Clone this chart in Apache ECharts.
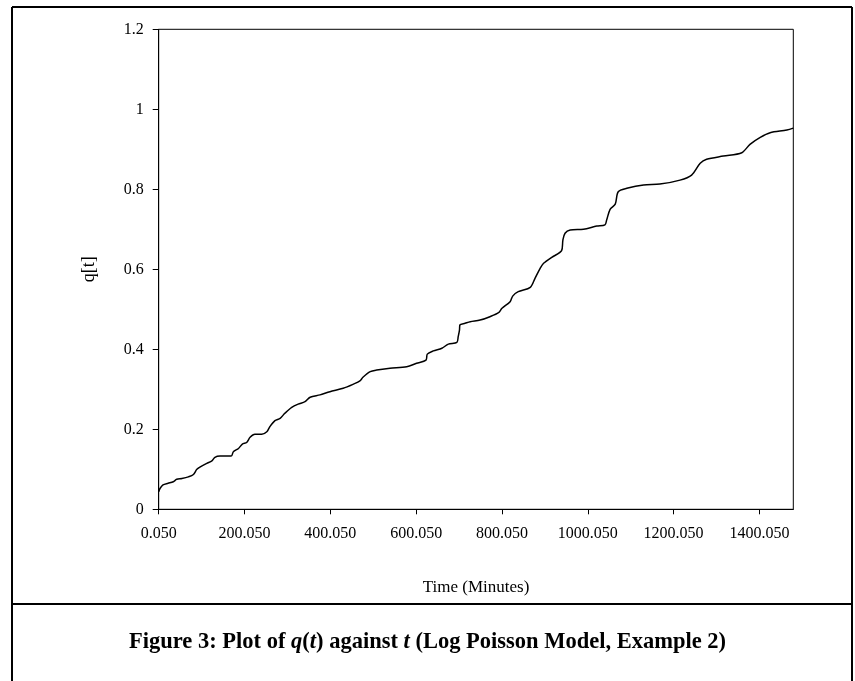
<!DOCTYPE html>
<html lang="en">

<head>
    <meta charset="UTF-8">
    <title>q(t) against t</title>
    <script src="https://cdn.jsdelivr.net/npm/echarts/dist/echarts.min.js"></script>
    <style>
        body { margin: 0; background: #fff; }
        #main { width: 855px; height: 681px; }
    </style>
</head>

<body>
    <div id="main"></div>

    <script>
        // time in minutes
        const times = [0.05, 3.05, 10.05, 22.05, 34.05, 42.05, 54.05, 69.05, 81.05, 89.05,
            100.05, 112.05, 124.05, 131.05, 143.05, 169.05, 174.05, 186.05, 195.05, 205.05,
            213.05, 224.05, 240.05, 252.05, 259.05, 271.05, 283.05, 294.05, 310.05, 325.05,
            341.05, 353.05, 376.05, 399.05, 430.05, 454.05, 469.05, 476.05, 493.05, 508.05,
            539.05, 578.05, 601.05, 623.05, 626.05, 640.05, 660.05, 675.05, 695.05, 698.05,
            701.05, 702.05, 714.05, 726.05, 749.05, 772.05, 792.05, 800.05, 819.05, 825.05,
            838.05, 866.05, 877.05, 889.05, 897.05, 916.05, 939.05, 942.05, 947.05, 959.05,
            990.05, 1021.05, 1040.05, 1044.05, 1052.05, 1064.05, 1071.05, 1091.05, 1130.05, 1168.05,
            1215.05, 1242.05, 1262.05, 1277.05, 1316.05, 1359.05, 1378.05, 1402.05, 1425.05, 1464.05,
            1479.05];
        const qValues = [0.044, 0.052, 0.061, 0.065, 0.069, 0.075, 0.077, 0.081, 0.087, 0.100,
            0.108, 0.115, 0.121, 0.130, 0.133, 0.133, 0.144, 0.152, 0.163, 0.167,
            0.180, 0.1875, 0.1875, 0.194, 0.2065, 0.2215, 0.2275, 0.240, 0.255, 0.263,
            0.269, 0.280, 0.286, 0.294, 0.3025, 0.313, 0.321, 0.330, 0.344, 0.348,
            0.3525, 0.3565, 0.365, 0.373, 0.388, 0.396, 0.4025, 0.413, 0.4175, 0.4315,
            0.448, 0.461, 0.465, 0.469, 0.473, 0.4815, 0.4915, 0.5025, 0.519, 0.533,
            0.544, 0.555, 0.5775, 0.6025, 0.615, 0.630, 0.6465, 0.673, 0.690, 0.698,
            0.700, 0.708, 0.711, 0.723, 0.750, 0.763, 0.794, 0.8025, 0.811, 0.813,
            0.823, 0.8355, 0.865, 0.875, 0.883, 0.8915, 0.9125, 0.930, 0.9415, 0.948,
            0.953];
        const xTickStep = 200;
        const xStart = 0.05;
        const xEnd = 1479.05;
        const yTicks = [0, 0.2, 0.4, 0.6, 0.8, 1, 1.2];

        const font = 'Liberation Serif';
        const myChart = echarts.init(document.getElementById('main'));

        // x is shifted by xStart so that ticks start from 0
        const seriesData = times.map((t, i) => [t - xStart, qValues[i]]);

        const option = {
            animation: false,
            backgroundColor: '#fff',
            title: {
                text: 'Figure 3: Plot of {i|q}({i|t}) against {i|t} (Log Poisson Model, Example 2)',
                left: 'center',
                top: 626,
                textStyle: {
                    fontFamily: font,
                    fontSize: 22.5,
                    fontWeight: 'bold',
                    color: '#000',
                    rich: {
                        i: { fontFamily: font, fontSize: 22.5, fontWeight: 'bold', fontStyle: 'italic', color: '#000' }
                    }
                }
            },
            graphic: [
                { type: 'line', shape: { x1: 12, y1: 7, x2: 12, y2: 681 }, style: { stroke: '#000', lineWidth: 2 } },
                { type: 'line', shape: { x1: 12, y1: 7, x2: 852, y2: 7 }, style: { stroke: '#000', lineWidth: 2 } },
                { type: 'line', shape: { x1: 852, y1: 7, x2: 852, y2: 681 }, style: { stroke: '#000', lineWidth: 2 } },
                { type: 'line', shape: { x1: 12, y1: 604, x2: 852, y2: 604 }, style: { stroke: '#000', lineWidth: 2 } }
            ],
            grid: {
                left: 158.7,
                top: 29.3,
                right: 61.7,
                bottom: 171.7,
                show: true,
                borderColor: '#000',
                borderWidth: 1
            },
            xAxis: {
                type: 'value',
                min: 0,
                max: xEnd - xStart,
                interval: xTickStep,
                name: 'Time (Minutes)',
                nameLocation: 'middle',
                nameGap: 70,
                nameTextStyle: { fontFamily: font, fontSize: 17, color: '#000' },
                axisLine: { lineStyle: { color: '#000', width: 1 } },
                axisTick: { length: 5, lineStyle: { color: '#000' } },
                axisLabel: {
                    fontFamily: font, fontSize: 16, color: '#000', margin: 16,
                    showMaxLabel: false,
                    formatter: v => (v + xStart).toFixed(3)
                },
                splitLine: { show: false }
            },
            yAxis: {
                type: 'value',
                min: yTicks[0],
                max: yTicks[yTicks.length - 1],
                interval: 0.2,
                name: 'q[t]',
                nameLocation: 'middle',
                nameGap: 60,
                nameTextStyle: { fontFamily: font, fontSize: 18, color: '#000' },
                axisLine: { show: true, lineStyle: { color: '#000', width: 1 } },
                axisTick: { show: true, length: 6, lineStyle: { color: '#000' } },
                axisLabel: {
                    fontFamily: font, fontSize: 16, color: '#000', margin: 15,
                    formatter: v => String(Math.round(v * 10) / 10)
                },
                splitLine: { show: false }
            },
            series: [{
                name: 'q[t]',
                type: 'line',
                data: seriesData,
                showSymbol: false,
                smooth: 0.3,
                lineStyle: { color: '#000', width: 1.5 }
            }]
        };

        myChart.setOption(option);
    </script>
</body>

</html>
